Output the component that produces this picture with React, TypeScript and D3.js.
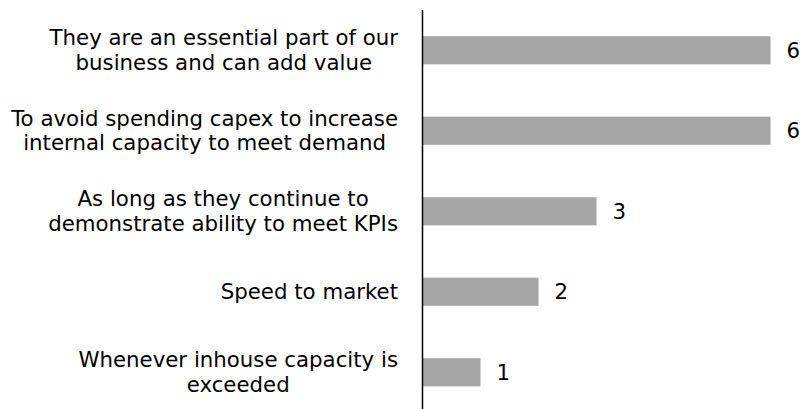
import React, { useRef, useEffect } from 'react';
import * as d3 from 'd3';

// Survey answers, top to bottom
const categories: string[][] = [
  ['They are an essential part of our', 'business and can add value'],
  ['To avoid spending capex to increase', 'internal capacity to meet demand'],
  ['As long as they continue to', 'demonstrate ability to meet KPIs'],
  ['Speed to market'],
  ['Whenever inhouse capacity is', 'exceeded'],
];
const counts: number[] = [6, 6, 3, 2, 1];

const W = 801;
const H = 409;

const App: React.FC = () => {
  const svgRef = useRef<SVGSVGElement | null>(null);

  useEffect(() => {
    document.body.style.margin = '0';
    const svg = d3.select(svgRef.current);
    svg.selectAll('*').remove();

    const axisX = 422.5;
    const labelRight = 398;
    const keys = categories.map((_, i) => String(i));

    const x = d3.scaleLinear().domain([0, 6]).range([axisX, axisX + 348]);
    const y = d3.scaleBand()
      .domain(keys)
      .range([10, 412.5])
      .paddingInner(0.65)
      .paddingOuter(0.325);

    const fontFamily = '"DejaVu Sans", Verdana, sans-serif';
    const fontSize = 21.3;
    const lineH = 24.5;

    // Bars
    svg.append('g')
      .selectAll('rect')
      .data(counts)
      .enter()
      .append('rect')
      .attr('x', axisX)
      .attr('y', (_, i) => y(keys[i])!)
      .attr('width', d => x(d) - axisX)
      .attr('height', y.bandwidth())
      .attr('fill', '#a6a6a6');

    // Vertical axis line
    svg.append('line')
      .attr('x1', axisX)
      .attr('x2', axisX)
      .attr('y1', 10)
      .attr('y2', H)
      .attr('stroke', '#000')
      .attr('stroke-width', 1.5);

    // Value labels
    svg.append('g')
      .selectAll('text')
      .data(counts)
      .enter()
      .append('text')
      .attr('x', d => x(d) + 16)
      .attr('y', (_, i) => y(keys[i])! + y.bandwidth() / 2)
      .attr('dy', '0.35em')
      .attr('font-family', fontFamily)
      .attr('font-size', fontSize)
      .attr('fill', '#000')
      .text(d => d);

    // Category labels: block right aligned, lines centred inside the block
    const labels = svg.append('g')
      .selectAll('text')
      .data(categories)
      .enter()
      .append('text')
      .attr('text-anchor', 'middle')
      .attr('font-family', fontFamily)
      .attr('font-size', fontSize)
      .attr('fill', '#000');

    labels.each(function (lines, i) {
      const cy = y(keys[i])! + y.bandwidth() / 2;
      const top = cy - ((lines.length - 1) * lineH) / 2;
      const spans = d3.select(this)
        .selectAll('tspan')
        .data(lines)
        .enter()
        .append('tspan')
        .attr('y', (_, j) => top + j * lineH)
        .attr('dy', '0.35em')
        .text(l => l);
      let maxW = 0;
      spans.each(function () {
        maxW = Math.max(maxW, (this as SVGTSpanElement).getComputedTextLength());
      });
      spans.attr('x', labelRight - maxW / 2);
    });
  }, []);

  return <svg ref={svgRef} width={W} height={H} style={{ display: 'block', background: '#fff' }} />;
};

export default App;
